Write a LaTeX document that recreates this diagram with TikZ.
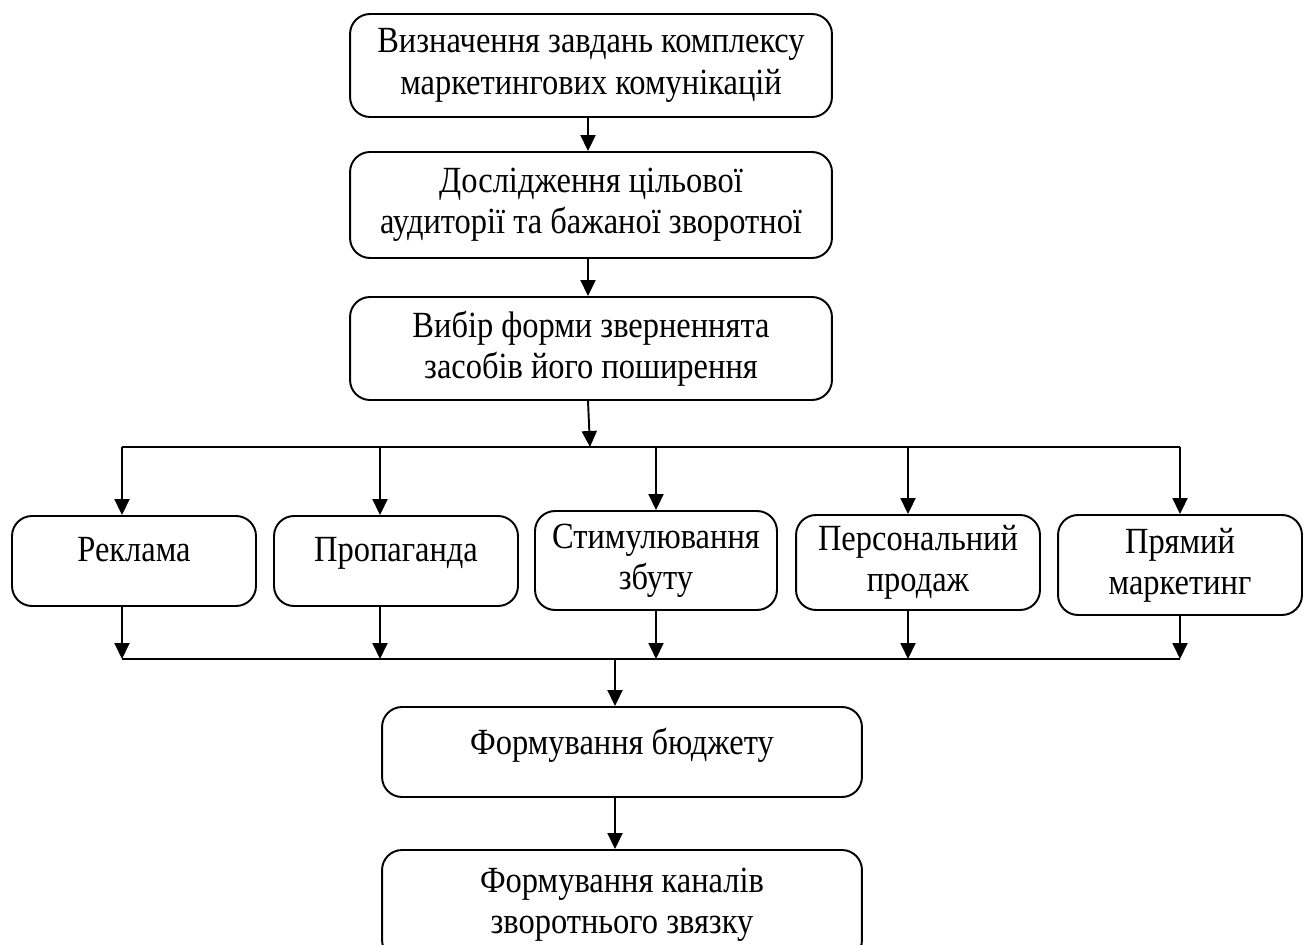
\documentclass[tikz,border=0pt]{standalone}
\usepackage{fontspec}
\setmainfont{Liberation Serif}[FakeStretch=0.88]
\usetikzlibrary{arrows.meta}
\tikzset{
  blok/.style={draw, rounded corners=0.4cm, line width=1.1pt, align=center,
    inner xsep=2pt, font=\fontsize{21}{23.5}\selectfont},
  shyroky/.style={blok, minimum width=9.64cm},
  vuzky/.style={blok, minimum width=4.88cm},
  strilka/.style={-{Triangle[length=0.32cm,width=0.3cm]}, line width=1.1pt},
}
\begin{document}
\begin{tikzpicture}[x=0.02cm,y=-0.02cm]
\useasboundingbox (0,0) rectangle (1311,945);
\clip (0,0) rectangle (1311,945);
% verkhni bloky
\node[shyroky, minimum height=2.06cm] (zavd) at (591,65.5) {Визначення завдань комплексу\\маркетингових комунікацій};
\node[shyroky, minimum height=2.12cm] (audyt) at (591,205) {Дослідження цільової\\аудиторії та бажаної зворотної};
\node[shyroky, minimum height=2.06cm] (forma) at (591,348.5) {Вибір форми зверненнята\\засобів його поширення};
% zasoby
\node[vuzky, minimum height=1.8cm] (rekl) at (134,561) {Реклама\\[-0.38cm]\mbox{}};
\node[vuzky, minimum height=1.8cm] (prop) at (396,561) {Пропаганда\\[-0.38cm]\mbox{}};
\node[vuzky, minimum width=4.84cm, minimum height=1.98cm] (stym) at (656,560.5) {Стимулювання\\збуту};
\node[vuzky, minimum height=1.9cm] (pers) at (918,562.5) {Персональний\\продаж};
\node[vuzky, minimum height=2.0cm] (pram) at (1180,565) {Прямий\\маркетинг};
% nyzhni bloky
\node[blok, minimum width=9.6cm, minimum height=1.8cm] (budz) at (622,752) {Формування бюджету\\[-0.38cm]\mbox{}};
\node[blok, minimum width=9.6cm, minimum height=2.2cm] (kanal) at (622,905) {Формування каналів\\зворотнього звязку};
% shyny
\coordinate (v1) at (122,447);
\coordinate (v5) at (1180,447);
\coordinate (vc) at (590,447);
\coordinate (n1) at (122,659);
\coordinate (n5) at (1180,659);
\coordinate (nc) at (615,659);
\draw[line width=1.1pt] (v1) -- (v5);
\draw[line width=1.1pt] (n1) -- (n5);
\draw[strilka] (zavd.south -| 588,0) -- (audyt.north -| 588,0);
\draw[strilka] (audyt.south -| 588,0) -- (forma.north -| 588,0);
\draw[strilka] (forma.south -| 588,0) -- (vc);
\foreach \x/\b in {122/rekl, 380/prop, 656/stym, 908/pers, 1180/pram} {
  \draw[strilka] (\x,447) -- (\b.north -| \x,0);
  \draw[strilka] (\b.south -| \x,0) -- (\x,659);
}
\draw[strilka] (nc) -- (budz.north -| nc);
\draw[strilka] (budz.south -| nc) -- (kanal.north -| nc);
\end{tikzpicture}
\end{document}
